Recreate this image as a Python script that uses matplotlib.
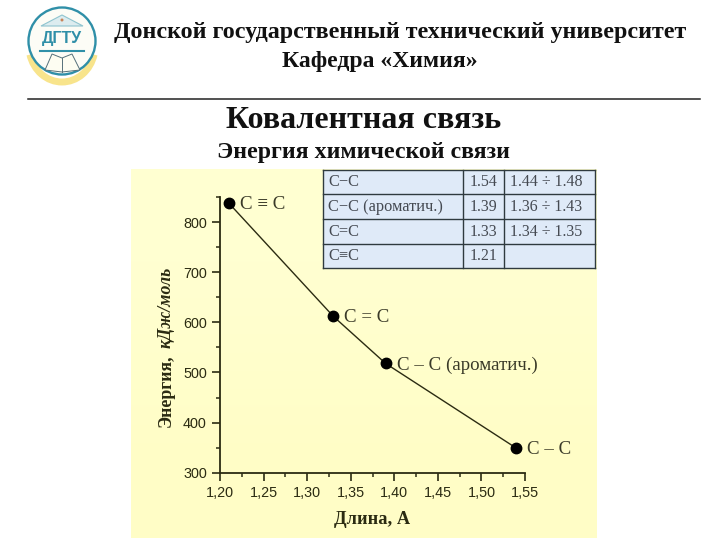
import matplotlib
matplotlib.use("Agg")
import matplotlib.pyplot as plt
import numpy as np
from matplotlib.patches import Arc, Circle, Polygon, Rectangle

bondLength = [1.21, 1.33, 1.39, 1.54]
bondEnergy = [838, 612, 518, 349]
pointLabels = ["C ≡ C", "C = C", "C – C (ароматич.)", "C – C"]

xTicks = [1.20, 1.25, 1.30, 1.35, 1.40, 1.45, 1.50, 1.55]
xTickLabels = ["1,20", "1,25", "1,30", "1,35", "1,40", "1,45", "1,50", "1,55"]
yTicks = [300, 400, 500, 600, 700, 800]

tableRows = [
    ["C−C", "1.54", "1.44 ÷ 1.48"],
    ["C−C (ароматич.)", "1.39", "1.36 ÷ 1.43"],
    ["C=C", "1.33", "1.34 ÷ 1.35"],
    ["C≡C", "1.21", ""],
]

SERIF = "Liberation Serif"
SANS = "Liberation Sans"
INK = "#2b2b12"
TABLE_INK = "#454a52"
LOGO_BLUE = "#2f8fa8"

fig = plt.figure(figsize=(7.2, 5.4), dpi=100, facecolor="white")

# whole page in pixel coordinates, for everything that is not the plot
page = fig.add_axes([0, 0, 1, 1])
page.axis("off")

page.text(400, 38, "Донской государственный технический университет", family=SERIF,
          weight="bold", fontsize=17.3, ha="center", va="baseline", color="#111111")
page.text(379.5, 67, "Кафедра «Химия»", family=SERIF, weight="bold", fontsize=17,
          ha="center", va="baseline", color="#111111")
page.plot([28, 700], [99, 99], color="#222222", lw=1.1)
page.text(363.5, 128, "Ковалентная связь", family=SERIF, weight="bold", fontsize=23,
          ha="center", va="baseline", color="#111111")
page.text(363.5, 158, "Энергия химической связи", family=SERIF, weight="bold", fontsize=17.2,
          ha="center", va="baseline", color="#111111")

# logo
page.add_patch(Arc((62, 46), 66, 72, theta1=15, theta2=165, color="#f8e48c", lw=5, zorder=1))
page.add_patch(Circle((62, 41), 33.5, fc="#fcfcf6", ec=LOGO_BLUE, lw=1.7, zorder=2))
page.add_patch(Polygon([[41, 26], [62, 15], [83, 26]], closed=True, fc="#dcecef", ec="#8fc4cf", lw=0.8, zorder=3))
page.add_patch(Circle((62, 20), 1.5, fc="#c8845a", ec="none", zorder=4))
page.text(62, 39, "ДГТУ", family=SANS, weight="bold", fontsize=11.5, color=LOGO_BLUE,
          ha="center", va="center", zorder=4)
page.plot([40, 84], [50.5, 50.5], color=LOGO_BLUE, lw=1.5, zorder=3)
page.add_patch(Polygon([[45, 70], [52, 54], [62, 58], [72, 54], [80, 70], [62, 72]], closed=True,
                       fc="#fdfdf2", ec="#55707a", lw=0.7, zorder=3))
page.plot([62, 62], [58, 72], color="#55707a", lw=0.7, zorder=4)

# pale panel behind the plot
panelColors = np.array([[1.0, 1.0, 0.82], [1.0, 0.995, 0.78]])
page.imshow(panelColors[:, None, :], extent=[131, 597, 538, 169], aspect="auto", zorder=0,
            interpolation="bilinear")
page.set_xlim(0, 720)
page.set_ylim(540, 0)

# bond table
colEdges = [323, 463, 504, 595]
rowEdges = [169.5, 194.3, 219, 243.7, 268.3]
page.add_patch(Rectangle((colEdges[0], rowEdges[0]), colEdges[-1] - colEdges[0], rowEdges[-1] - rowEdges[0],
                         fc="#dfeaf8", ec="none", zorder=5))
for col in colEdges:
    page.plot([col, col], [rowEdges[0], rowEdges[-1]], color="#2f3a3f", lw=1.0, zorder=6)
for row in rowEdges:
    page.plot([colEdges[0], colEdges[-1]], [row, row], color="#2f3a3f", lw=1.0, zorder=6)
for i, row in enumerate(tableRows):
    y = (rowEdges[i] + rowEdges[i + 1]) / 2 + 0.5
    page.text(328, y, row[0], family=SERIF, fontsize=11.8, color=TABLE_INK, ha="left", va="center", zorder=7)
    page.text(483.5, y, row[1], family=SERIF, fontsize=11.5, color=TABLE_INK, ha="center", va="center", zorder=7)
    page.text(510, y, row[2], family=SERIF, fontsize=11.5, color=TABLE_INK, ha="left", va="center", zorder=7)

# axis labels of the plot
page.text(372.5, 520, "Длина, А", family=SERIF, weight="bold", fontsize=13.2, color=INK, ha="center", va="center")
page.text(171, 427, "Энергия,", family=SERIF, weight="bold", fontsize=12.8, color=INK,
          rotation=90, ha="left", va="baseline", rotation_mode="anchor")
page.text(171, 348, "кДж/моль", family=SERIF, weight="bold", style="italic", fontsize=12.9, color=INK,
          rotation=90, ha="left", va="baseline", rotation_mode="anchor")

# the plot, axes box from the axis lines of the picture
left, right, bottom, top = 220, 525, 472.7, 197
ax = fig.add_axes([left / 720, 1 - bottom / 540, (right - left) / 720, (bottom - top) / 540])
ax.patch.set_alpha(0)
ax.plot(bondLength, bondEnergy, color=INK, lw=1.0, clip_on=False, zorder=2)
ax.plot(bondLength, bondEnergy, "o", color="black", ms=7.5, clip_on=False, zorder=3)
ax.set_xlim(1.20, 1.55)
ax.set_ylim(300, 850)
ax.set_xticks(xTicks)
ax.set_xticklabels(xTickLabels)
ax.set_yticks(yTicks)
ax.set_xticks([1.225, 1.275, 1.325, 1.375, 1.425, 1.475, 1.525], minor=True)
ax.set_yticks([350, 450, 550, 650, 750, 850], minor=True)
for side in ["top", "right"]:
    ax.spines[side].set_visible(False)
for side in ["left", "bottom"]:
    ax.spines[side].set_linewidth(1.3)
    ax.spines[side].set_color(INK)
ax.tick_params(which="major", direction="out", length=5.5, width=1.2, color=INK, labelcolor=INK, labelsize=10.4, pad=4)
ax.tick_params(which="minor", direction="out", length=3, width=1.1, color=INK)
for label in ax.get_xticklabels() + ax.get_yticklabels():
    label.set_family(SANS)

for x, y, name in zip(bondLength, bondEnergy, pointLabels):
    ax.annotate(name, (x, y), xytext=(8, -1.2), textcoords="offset points", family=SERIF, fontsize=13.6,
                color="#3a3a28", va="center", annotation_clip=False)

fig.savefig("out.png", dpi=100)
